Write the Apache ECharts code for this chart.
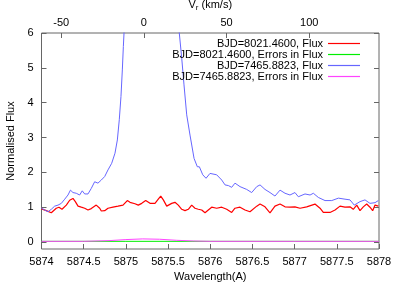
<!DOCTYPE html>
<html>
<head>
<meta charset="utf-8">
<script src="https://cdn.jsdelivr.net/npm/echarts@6/dist/echarts.min.js"></script>
<style>
  html, body { margin: 0; padding: 0; background: #fff; }
  #chart { width: 399px; height: 285px; }
</style>
</head>
<body>
<div id="chart"></div>
<script>
// BJD=8021.4600 flux (red)
const waveRed = [5874.000, 5874.057, 5874.116, 5874.175, 5874.207, 5874.243, 5874.294, 5874.334, 5874.373, 5874.401,
  5874.433, 5874.472, 5874.512, 5874.551, 5874.590, 5874.649, 5874.690, 5874.709, 5874.749, 5874.788,
  5874.847, 5874.907, 5874.966, 5875.017, 5875.049, 5875.108, 5875.147, 5875.188, 5875.235, 5875.286,
  5875.345, 5875.384, 5875.413, 5875.444, 5875.484, 5875.543, 5875.582, 5875.621, 5875.662, 5875.701,
  5875.740, 5875.780, 5875.819, 5875.858, 5875.899, 5875.938, 5875.977, 5876.017, 5876.076, 5876.136,
  5876.195, 5876.254, 5876.293, 5876.353, 5876.412, 5876.471, 5876.551, 5876.590, 5876.649, 5876.708,
  5876.767, 5876.827, 5876.886, 5876.945, 5877.004, 5877.064, 5877.143, 5877.241, 5877.301, 5877.340,
  5877.419, 5877.479, 5877.538, 5877.597, 5877.656, 5877.695, 5877.736, 5877.775, 5877.814, 5877.854,
  5877.893, 5877.925, 5877.953, 5877.992];
const fluxRed = [0.95, 0.90, 0.84, 0.97, 1.00, 0.94, 1.06, 1.20, 1.25, 1.16,
  1.03, 1.00, 0.97, 0.92, 0.96, 1.06, 0.97, 0.89, 0.90, 0.97,
  1.00, 1.03, 1.06, 1.19, 1.14, 1.10, 1.06, 1.11, 1.19, 1.11,
  1.11, 1.23, 1.32, 1.21, 1.03, 1.11, 1.14, 1.06, 0.94, 0.90,
  0.94, 1.06, 0.97, 0.94, 0.92, 0.84, 0.92, 1.00, 0.97, 1.00,
  0.94, 0.85, 0.97, 1.00, 0.92, 0.87, 1.03, 1.09, 1.01, 0.84,
  1.03, 1.09, 1.01, 1.00, 1.01, 0.97, 1.01, 1.09, 0.97, 0.85,
  0.85, 0.92, 1.03, 1.00, 1.01, 0.94, 1.06, 0.90, 1.01, 1.09,
  1.00, 0.90, 1.06, 1.03];

// BJD=7465.8823 flux (blue)
const waveBlue = [5874.000, 5874.038, 5874.077, 5874.116, 5874.156, 5874.196, 5874.235, 5874.275, 5874.314, 5874.343,
  5874.373, 5874.412, 5874.452, 5874.483, 5874.512, 5874.551, 5874.590, 5874.630, 5874.669, 5874.709,
  5874.749, 5874.788, 5874.832, 5874.871, 5874.899, 5874.922, 5874.942, 5874.958, 5874.970, 5874.978,
  5875.002, 5875.049, 5875.167, 5875.286, 5875.404, 5875.523, 5875.594, 5875.633, 5875.662, 5875.689,
  5875.721, 5875.760, 5875.808, 5875.847, 5875.871, 5875.911, 5875.950, 5875.997, 5876.076, 5876.136,
  5876.175, 5876.215, 5876.254, 5876.293, 5876.353, 5876.432, 5876.491, 5876.551, 5876.590, 5876.649,
  5876.708, 5876.767, 5876.827, 5876.886, 5876.945, 5877.004, 5877.044, 5877.064, 5877.123, 5877.183,
  5877.222, 5877.281, 5877.360, 5877.440, 5877.519, 5877.597, 5877.656, 5877.707, 5877.775, 5877.834,
  5877.893, 5877.953, 5877.992];
const fluxBlue = [0.97, 0.92, 0.87, 0.94, 1.03, 1.06, 1.11, 1.23, 1.35, 1.49,
  1.42, 1.40, 1.35, 1.47, 1.38, 1.38, 1.54, 1.73, 1.69, 1.78,
  1.88, 2.07, 2.26, 2.55, 2.93, 3.51, 4.18, 4.94, 5.61, 6.00,
  7.50, 9.50, 11.5, 12.0, 11.0, 9.00, 7.20, 6.00, 5.28, 4.51,
  3.65, 3.07, 2.40, 2.16, 2.16, 1.93, 1.83, 1.97, 1.93, 1.78,
  1.64, 1.62, 1.57, 1.69, 1.59, 1.51, 1.42, 1.59, 1.64, 1.51,
  1.42, 1.32, 1.49, 1.40, 1.35, 1.42, 1.30, 1.35, 1.38, 1.35,
  1.40, 1.28, 1.19, 1.19, 1.26, 1.23, 1.21, 1.06, 1.16, 1.21,
  1.11, 1.13, 1.19];

// errors in flux
const waveErrRed = [5874.0, 5875.0, 5876.0, 5877.0, 5878.0];
const errRed = [0.02, 0.02, 0.02, 0.02, 0.02];
const waveErrBlue = [5874.0, 5874.5, 5874.8, 5875.0, 5875.2, 5875.4, 5875.6, 5875.8, 5876.0, 5877.0, 5878.0];
const errBlue = [0.02, 0.02, 0.04, 0.07, 0.09, 0.08, 0.05, 0.03, 0.02, 0.02, 0.02];

const yTicks = [0, 1, 2, 3, 4, 5, 6];
const vTicks = [-50, 0, 50, 100];

const legendNames = [
  'BJD=8021.4600, Flux',
  'BJD=8021.4600, Errors in Flux',
  'BJD=7465.8823, Flux',
  'BJD=7465.8823, Errors in Flux'
];
const colors = ['#ff0000', '#00ee00', '#6666ff', '#ff44ff'];

function pairs(xs, ys) {
  return xs.map((x, i) => [x, ys[i]]);
}

const FONT = "'Liberation Sans', Arial, sans-serif";
const frameColor = '#666666';

let myChart = echarts.init(document.getElementById('chart'));
let option = {
  animation: false,
  textStyle: { fontFamily: FONT },
  grid: {
    left: 41.5,
    right: 20,
    top: 33,
    bottom: 36,
    outerBoundsMode: 'none',
    show: true,
    borderColor: frameColor,
    borderWidth: 1,
    backgroundColor: 'transparent'
  },
  legend: {
    right: 34,
    top: 33,
    orient: 'vertical',
    align: 'right',
    icon: 'rect',
    itemGap: 0,
    itemWidth: 32,
    itemHeight: 1.2,
    textStyle: { fontSize: 11, color: '#000', fontFamily: FONT, lineHeight: 11 },
    data: legendNames.map((n, i) => ({
      name: n,
      icon: 'rect',
      itemStyle: { color: colors[i], borderWidth: 0 }
    }))
  },
  xAxis: [
    {
      type: 'value',
      position: 'bottom',
      min: 5874,
      max: 5878,
      interval: 0.5,
      name: 'Wavelength(A)',
      nameLocation: 'middle',
      nameGap: 22,
      nameTextStyle: { fontSize: 11, color: '#000', fontFamily: FONT },
      axisLine: { show: false, onZero: false },
      axisTick: { inside: true, length: 5, lineStyle: { color: frameColor } },
      axisLabel: {
        fontSize: 11, color: '#000', margin: 7,
        formatter: v => String(Math.round(v * 10) / 10)
      },
      splitLine: { show: false }
    },
    {
      type: 'value',
      position: 'top',
      min: -61.9,
      max: 142.2,
      name: '{v|V}{s|r} (km/s)',
      nameLocation: 'middle',
      nameGap: 16,
      nameTextStyle: {
        fontSize: 11, color: '#000', fontFamily: FONT,
        rich: {
          v: { fontSize: 11, color: '#000', fontFamily: FONT },
          s: { fontSize: 8, color: '#000', fontFamily: FONT, verticalAlign: 'bottom', padding: [6, 0, 0, 0] }
        }
      },
      axisLine: { show: false, onZero: false },
      axisTick: { inside: true, length: 5, customValues: vTicks, lineStyle: { color: frameColor } },
      axisLabel: { fontSize: 11, color: '#000', margin: 5, customValues: vTicks },
      splitLine: { show: false }
    }
  ],
  yAxis: [
    {
      type: 'value',
      position: 'left',
      min: -0.2,
      max: 6,
      name: 'Normalised Flux',
      nameLocation: 'middle',
      nameGap: 20,
      nameTextStyle: { fontSize: 11, color: '#000', fontFamily: FONT },
      axisLine: { show: false, onZero: false },
      axisTick: { inside: true, length: 5, customValues: yTicks, lineStyle: { color: frameColor } },
      axisLabel: { fontSize: 11, color: '#000', margin: 8, customValues: yTicks },
      splitLine: { show: false }
    },
    {
      type: 'value',
      position: 'right',
      min: -0.2,
      max: 6,
      axisLine: { show: false, onZero: false },
      axisTick: { inside: true, length: 5, customValues: yTicks, lineStyle: { color: frameColor } },
      axisLabel: { show: false },
      splitLine: { show: false }
    }
  ],
  series: [
    {
      name: legendNames[0], type: 'line', symbol: 'none', clip: true,
      xAxisIndex: 0, yAxisIndex: 0, color: colors[0],
      lineStyle: { color: colors[0], width: 1.2 }, itemStyle: { color: colors[0] },
      data: pairs(waveRed, fluxRed)
    },
    {
      name: legendNames[1], type: 'line', symbol: 'none', clip: true,
      xAxisIndex: 0, yAxisIndex: 0, color: colors[1],
      lineStyle: { color: colors[1], width: 1 }, itemStyle: { color: colors[1] },
      data: pairs(waveErrRed, errRed)
    },
    {
      name: legendNames[2], type: 'line', symbol: 'none', clip: true,
      xAxisIndex: 0, yAxisIndex: 0, color: colors[2],
      lineStyle: { color: colors[2], width: 1 }, itemStyle: { color: colors[2] },
      data: pairs(waveBlue, fluxBlue)
    },
    {
      name: legendNames[3], type: 'line', symbol: 'none', clip: true,
      xAxisIndex: 0, yAxisIndex: 0, color: colors[3],
      lineStyle: { color: colors[3], width: 1 }, itemStyle: { color: colors[3] },
      data: pairs(waveErrBlue, errBlue)
    }
  ]
};

myChart.setOption(option, true);
window.addEventListener('resize', () => {
  myChart.resize();
});
</script>
</body>
</html>
